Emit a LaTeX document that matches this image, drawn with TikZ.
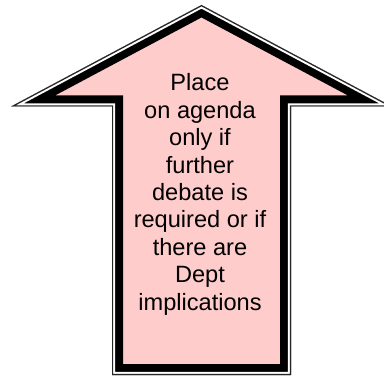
\documentclass[tikz,border=0pt]{standalone}
\usepackage{fontspec}
\setmainfont{Liberation Sans}
\definecolor{arrowpink}{RGB}{255,204,204}
\begin{document}
\begin{tikzpicture}[x=1pt,y=1pt,line join=miter,miter limit=20,
  label/.style={align=center,inner sep=0pt,anchor=north,
    font=\fontsize{23.6}{27.4}\selectfont}]
\useasboundingbox (0,0) rectangle (384,376);
\clip (0,0) rectangle (384,376);
\coordinate (tip) at (201.5,371);
\coordinate (rb) at (392,269.5);
\coordinate (rs) at (291,269.5);
\coordinate (rbot) at (291,1);
\coordinate (lbot) at (112,1);
\coordinate (ls) at (112,269.5);
\coordinate (lb) at (11,269.5);
\fill[arrowpink] (tip) -- (rb) -- (rs) -- (rbot) -- (lbot) -- (ls) -- (lb) -- cycle;
\begin{scope}
\clip (tip) -- (rb) -- (rs) -- (rbot) -- (lbot) -- (ls) -- (lb) -- cycle;
\draw[line width=22pt,black] (tip) -- (rb) -- (rs) -- (rbot) -- (lbot) -- (ls) -- (lb) -- cycle;
\draw[line width=6.4pt,white] (tip) -- (rb) -- (rs) -- (rbot) -- (lbot) -- (ls) -- (lb) -- cycle;
\draw[line width=2.4pt,black!85] (tip) -- (rb) -- (rs) -- (rbot) -- (lbot) -- (ls) -- (lb) -- cycle;
\end{scope}
\node[label] (txt) at (200,302.5) {Place\\on agenda\\only if\\further\\debate is\\required or if\\there are\\Dept\\implications};
\end{tikzpicture}
\end{document}
